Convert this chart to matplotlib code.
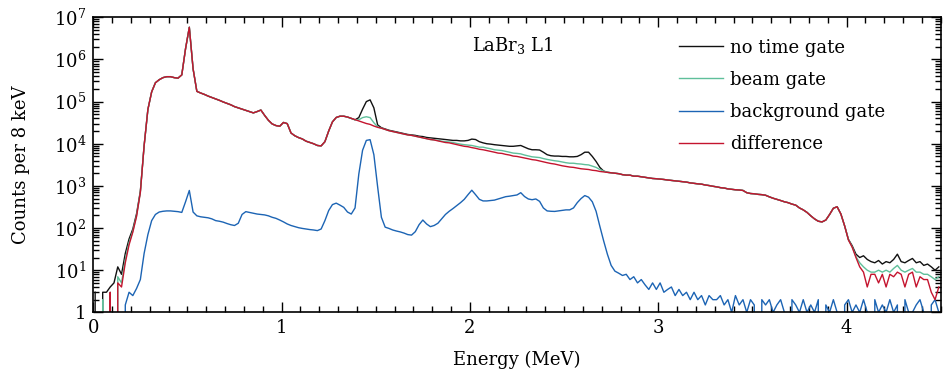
import numpy as np
import matplotlib
matplotlib.use('Agg')
from matplotlib import pyplot as plt
from matplotlib import ticker

# 20 keV bins from 0 to 4.5 MeV, counts given per 8 keV
bin_edges = np.linspace(0.0, 4.5, 226)
bin_centers = 0.5 * (bin_edges[1:] + bin_edges[:-1])

no_time_gate = [
    3, 0, 3, 3, 4, 5, 12, 8, 25, 55, 95, 220, 750, 9000, 65000,
    170000, 280000, 330000, 370000, 390000, 390000, 370000, 360000, 430000, 1800000, 5800000, 600000, 175000, 160000, 148000,
    135000, 125000, 115000, 107000, 98000, 91000, 84000, 76000, 71000, 66000, 62000, 58000, 54000, 58000, 63000,
    47000, 36000, 29500, 27000, 26000, 32000, 30000, 18000, 15500, 14000, 13000, 11500, 10700, 10000, 9100,
    8900, 11200, 20000, 33000, 42000, 45000, 45000, 43000, 40000, 37000, 41700, 66000, 100000, 110000, 71000,
    28000, 24000, 22400, 20900, 20000, 19100, 18200, 17400, 16600, 16200, 15800, 15100, 14800, 14100, 13800,
    13500, 13200, 12900, 12600, 12300, 12000, 12000, 11700, 11700, 12000, 12900, 12600, 11200, 10500, 10000,
    9800, 9500, 9300, 9100, 8900, 8700, 8700, 8900, 9100, 8300, 7600, 7200, 7200, 7100, 6300,
    5500, 5200, 5100, 5100, 5000, 5000, 4900, 4900, 5000, 5500, 6300, 6300, 5000, 3800, 2750,
    2250, 2100, 2050, 2000, 1950, 1850, 1800, 1800, 1700, 1700, 1650, 1600, 1550, 1500, 1480,
    1450, 1420, 1380, 1350, 1320, 1290, 1260, 1230, 1180, 1150, 1120, 1100, 1050, 1020, 980,
    950, 910, 890, 850, 830, 810, 800, 780, 690, 660, 650, 630, 620, 600, 550,
    510, 480, 450, 420, 400, 370, 350, 300, 270, 235, 195, 165, 145, 140, 155,
    210, 295, 320, 215, 112, 54, 38, 24, 20, 22, 18, 16, 15, 17, 14,
    16, 15, 18, 24, 16, 15, 17, 19, 15, 16, 13, 14, 12, 10, 12]

beam_gate = [
    0, 0, 2, 0, 3, 0, 7, 5, 18, 45, 85, 200, 720, 9000, 65000,
    170000, 280000, 330000, 370000, 390000, 390000, 370000, 360000, 430000, 1800000, 5800000, 600000, 175000, 160000, 148000,
    135000, 125000, 115000, 107000, 98000, 91000, 84000, 76000, 71000, 66000, 62000, 58000, 54000, 58000, 63000,
    47000, 36000, 29500, 27000, 26000, 32000, 30000, 18000, 15500, 14000, 13000, 11500, 10700, 10000, 9100,
    8900, 11200, 20000, 33000, 42000, 45000, 45000, 43000, 40000, 37000, 37000, 41700, 43700, 41700, 31600,
    25100, 23400, 21900, 20400, 19500, 18600, 17800, 17000, 16200, 15800, 15100, 14500, 13800, 13200, 12600,
    12300, 12000, 11500, 11200, 11000, 10700, 10200, 9800, 9500, 9300, 9100, 8700, 8300, 8300, 7900,
    7600, 7200, 7050, 6900, 6600, 6300, 6000, 5900, 5750, 5400, 5150, 4900, 4800, 4700, 4450,
    4250, 4100, 3950, 3850, 3700, 3550, 3450, 3450, 3350, 3300, 3200, 3150, 2950, 2750, 2450,
    2250, 2100, 2050, 2000, 1950, 1850, 1800, 1800, 1700, 1700, 1650, 1600, 1550, 1500, 1480,
    1450, 1420, 1380, 1350, 1320, 1290, 1260, 1230, 1180, 1150, 1120, 1100, 1050, 1020, 980,
    950, 910, 890, 850, 830, 810, 800, 780, 690, 660, 650, 630, 620, 600, 550,
    510, 480, 450, 420, 400, 370, 350, 300, 270, 235, 195, 165, 145, 140, 155,
    210, 295, 320, 215, 112, 53, 36, 21, 15, 12, 10, 9, 9, 10, 9,
    10, 9, 11, 13, 10, 9, 10, 11, 9, 9, 8, 8, 7, 6, 7]

background_gate = [
    0, 0, 0, 0, 0, 0, 0, 0, 1.5, 3, 2.5, 3.7, 6, 25, 70,
    150, 210, 240, 250, 255, 255, 250, 245, 235, 420, 780, 240, 195, 185, 180,
    175, 165, 150, 145, 138, 128, 120, 115, 130, 210, 245, 235, 225, 215, 210,
    205, 195, 180, 170, 155, 140, 125, 115, 108, 102, 98, 95, 92, 90, 87,
    95, 150, 260, 360, 390, 350, 310, 240, 215, 300, 1900, 7000, 12000, 12500, 5500,
    950, 180, 105, 98, 90, 85, 81, 76, 70, 68, 82, 120, 155, 125, 108,
    115, 130, 165, 210, 250, 290, 340, 400, 480, 620, 790, 620, 480, 440, 440,
    450, 460, 490, 520, 555, 570, 590, 610, 690, 560, 490, 470, 490, 430, 300,
    255, 250, 248, 255, 262, 270, 270, 300, 400, 500, 590, 540, 420, 250, 110,
    50, 24, 13, 9.5, 8.5, 7.5, 8, 6, 7, 5, 6, 4.5, 3.5, 5, 3.5,
    5, 3, 3.5, 4, 2.5, 3.5, 2.5, 3, 2, 3, 2, 2.5, 1.5, 2.5, 2,
    2, 2.5, 1.5, 2, 1, 2.5, 1.5, 2, 1, 2, 1.5, 0, 2, 1.5, 2,
    1, 1.5, 2, 1, 0, 2, 1.5, 1, 2, 1, 1.5, 1, 2, 0, 1.5,
    1, 2, 1, 0, 1.5, 2, 1, 1.5, 1, 2, 1, 0, 2, 1, 1.5,
    1, 2, 1, 1.5, 0, 2, 1, 1, 1.5, 2, 1, 0, 1.5, 2, 1]

difference = [
    0, 0, 0, 0, 3, 0, 5, 4, 15, 40, 80, 190, 700, 9000, 65000,
    170000, 280000, 330000, 370000, 390000, 390000, 370000, 360000, 430000, 1800000, 5800000, 600000, 175000, 160000, 148000,
    135000, 125000, 115000, 107000, 98000, 91000, 84000, 76000, 71000, 66000, 62000, 58000, 54000, 58000, 63000,
    47000, 36000, 29500, 27000, 26000, 32000, 30000, 18000, 15500, 14000, 13000, 11500, 10700, 10000, 9100,
    8900, 11200, 20000, 33000, 42000, 45000, 45000, 43000, 40000, 37000, 34700, 32400, 30200, 28800, 26300,
    24500, 23400, 21900, 20400, 19500, 18600, 17800, 17000, 16200, 15800, 15100, 14500, 13800, 13200, 12600,
    12300, 11700, 11200, 10700, 10500, 10000, 9500, 9100, 8700, 8500, 8100, 7800, 7400, 7200, 6900,
    6600, 6300, 6000, 5900, 5600, 5400, 5100, 5000, 4800, 4600, 4400, 4200, 4100, 3900, 3700,
    3550, 3400, 3300, 3150, 3000, 2900, 2800, 2750, 2650, 2550, 2500, 2450, 2350, 2300, 2200,
    2150, 2100, 2050, 2000, 1950, 1850, 1800, 1800, 1700, 1700, 1650, 1600, 1550, 1500, 1480,
    1450, 1420, 1380, 1350, 1320, 1290, 1260, 1230, 1180, 1150, 1120, 1100, 1050, 1020, 980,
    950, 910, 890, 850, 830, 810, 800, 780, 690, 660, 650, 630, 620, 600, 550,
    510, 480, 450, 420, 400, 370, 350, 300, 270, 235, 195, 165, 145, 140, 155,
    210, 295, 320, 215, 112, 52, 35, 20, 12, 9, 4, 8, 8, 5, 8,
    4, 8, 7, 9, 8, 4, 8, 9, 4, 7, 6, 6, 3, 2, 4]

series = [
    (no_time_gate, 'no time gate', '#111111'),
    (beam_gate, 'beam gate', '#5fbf9a'),
    (background_gate, 'background gate', '#1c64b4'),
    (difference, 'difference', '#c4142e'),
]

plt.rcParams['font.family'] = 'DejaVu Serif'
plt.rcParams['mathtext.fontset'] = 'dejavuserif'

fig = plt.figure(figsize=(9.46, 3.8), dpi=100)
ax = fig.add_axes([0.0986, 0.178, 0.8958, 0.7765])

for values, label, color in series:
    assert len(values) == len(bin_centers), label
    ax.plot(bin_centers, values, color=color, lw=1.0, label=label)

ax.set_yscale('log', nonpositive='clip')
ax.set_xlim(0, 4.5)
ax.set_ylim(1, 1e7)

ax.xaxis.set_major_locator(ticker.MultipleLocator(1))
ax.xaxis.set_minor_locator(ticker.MultipleLocator(0.1))
ax.yaxis.set_major_locator(ticker.LogLocator(base=10, numticks=10))
ax.yaxis.set_minor_locator(ticker.LogLocator(base=10, subs=np.arange(2, 10), numticks=100))
ax.yaxis.set_minor_formatter(ticker.NullFormatter())
ax.yaxis.set_major_formatter(ticker.FuncFormatter(
    lambda v, p: '1' if abs(v - 1) < 1e-9 else r'$10^{%d}$' % round(np.log10(v))))

ax.tick_params(which='both', direction='in', top=True, right=True, labelsize=13, width=1.0)
ax.tick_params(which='major', length=7, pad=5)
ax.tick_params(which='minor', length=4.5)
for sp in ax.spines.values():
    sp.set_linewidth(1.2)

ax.set_xlabel('Energy (MeV)', fontsize=13, labelpad=10)
ax.set_ylabel('Counts per 8 keV', fontsize=13, labelpad=17)

ax.text(0.447, 0.905, r'LaBr$_3$ L1', transform=ax.transAxes, fontsize=13,
        ha='left', va='center')

ax.legend(loc='upper left', bbox_to_anchor=(0.683, 0.952), frameon=False,
          fontsize=13, handlelength=2.4, handletextpad=0.4, labelspacing=0.78,
          borderaxespad=0.0)

plt.savefig('out.png', dpi=100, facecolor='w')
